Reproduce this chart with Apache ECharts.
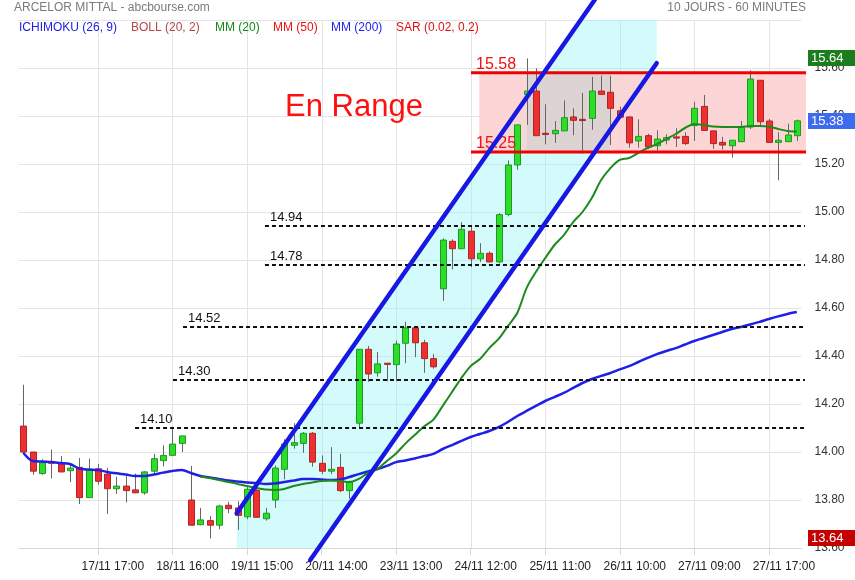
<!DOCTYPE html>
<html><head><meta charset="utf-8">
<script src="https://cdn.jsdelivr.net/npm/echarts@6/dist/echarts.min.js"></script>
<style>html,body{margin:0;padding:0;background:#fff}#c{width:855px;height:580px}</style>
</head><body><div id="c"></div>
<script>
// ---- data (hourly candles) ----
const opens  = [14.108,14.00,13.91,13.958,13.95,13.922,13.936,13.81,13.93,13.908,13.847,13.858,13.842,13.83,13.92,13.964,13.986,14.036,13.80,13.697,13.714,13.695,13.778,13.767,13.73,13.84,13.722,13.80,13.928,14.028,14.036,14.078,13.953,13.92,13.936,13.839,14.12,14.428,14.33,14.37,14.364,14.453,14.517,14.455,14.389,14.68,14.878,14.847,14.92,14.805,14.828,14.792,14.99,15.196,15.49,15.504,15.328,15.326,15.338,15.396,15.386,15.39,15.504,15.499,15.422,15.396,15.296,15.318,15.276,15.30,15.313,15.315,15.36,15.44,15.338,15.29,15.276,15.293,15.354,15.549,15.379,15.29,15.293,15.318];
const closes = [14.00,13.92,13.955,13.955,13.917,13.933,13.81,13.925,13.878,13.847,13.858,13.839,13.83,13.917,13.972,13.986,14.033,14.067,13.695,13.717,13.695,13.775,13.764,13.736,13.845,13.728,13.745,13.933,14.033,14.039,14.078,13.958,13.92,13.928,13.839,13.875,14.428,14.325,14.367,14.368,14.45,14.517,14.455,14.389,14.355,14.883,14.847,14.928,14.805,14.828,14.792,14.989,15.196,15.363,15.504,15.318,15.326,15.34,15.393,15.382,15.384,15.504,15.49,15.432,15.395,15.288,15.315,15.271,15.304,15.31,15.311,15.285,15.432,15.34,15.285,15.279,15.299,15.354,15.554,15.376,15.29,15.299,15.321,15.38];
const lows   = [13.995,13.905,13.905,13.89,13.915,13.875,13.783,13.81,13.864,13.742,13.825,13.79,13.828,13.822,13.908,13.94,13.986,14.0,13.695,13.695,13.64,13.678,13.745,13.675,13.72,13.728,13.714,13.767,13.886,14.014,13.997,13.939,13.908,13.908,13.833,13.805,14.10,14.292,14.314,14.295,14.295,14.37,14.395,14.33,14.347,14.63,14.761,14.847,14.77,14.792,14.79,14.786,14.982,15.176,15.363,15.318,15.282,15.288,15.338,15.32,15.243,15.343,15.49,15.279,15.39,15.268,15.268,15.262,15.257,15.282,15.271,15.279,15.296,15.34,15.263,15.26,15.226,15.293,15.346,15.354,15.29,15.132,15.293,15.296];
const highs  = [14.28,14.00,13.97,14.01,13.983,13.953,13.975,13.972,13.95,13.933,13.897,13.90,13.91,13.92,13.992,14.028,14.105,14.067,13.942,13.767,13.733,13.78,13.792,13.795,13.861,13.86,13.767,13.944,14.053,14.12,14.083,14.083,13.986,14.02,13.992,13.88,14.428,14.442,14.417,14.37,14.464,14.542,14.517,14.467,14.408,14.89,14.886,14.958,14.945,14.87,14.836,14.995,15.215,15.363,15.64,15.599,15.449,15.379,15.465,15.432,15.496,15.563,15.568,15.568,15.439,15.396,15.386,15.326,15.34,15.324,15.349,15.332,15.46,15.488,15.338,15.313,15.299,15.379,15.59,15.549,15.388,15.332,15.368,15.385];
const ma20 = [null,null,null,null,null,null,null,null,null,null,null,null,null,null,null,null,null,null,null,
  13.897,13.892,13.883,13.875,13.867,13.858,13.85,13.844,13.842,13.846,
  13.858,13.867,13.873,13.879,13.881,13.879,13.875,13.888,13.9125,13.929,
  13.962,13.994,14.035,14.071,14.106,14.135,14.192,14.25,14.308,14.358,
  14.3875,14.433,14.471,14.525,14.579,14.683,14.75,14.808,14.8625,14.904,
  14.958,15.0,15.058,15.133,15.183,15.217,15.225,15.246,15.267,15.283,
  15.304,15.325,15.35,15.367,15.3625,15.356,15.354,15.354,15.354,15.358,
  15.358,15.356,15.346,15.3375,15.335];
const ma200 = [13.997,13.9625,13.96,13.958,13.954,13.95,13.931,13.927,13.925,13.917,
  13.911,13.906,13.9,13.9,13.906,13.914,13.921,13.925,13.9125,13.9,
  13.894,13.8875,13.881,13.877,13.873,13.871,13.867,13.869,13.875,13.881,
  13.8875,13.8875,13.885,13.883,13.885,13.896,13.908,13.919,13.929,13.942,
  13.958,13.965,13.973,13.983,13.992,14.0125,14.029,14.046,14.0625,14.075,
  14.0875,14.104,14.125,14.15,14.171,14.192,14.2125,14.229,14.246,14.267,
  14.2875,14.304,14.317,14.329,14.344,14.358,14.375,14.392,14.408,14.421,
  14.433,14.448,14.4625,14.475,14.4875,14.5,14.5125,14.521,14.531,14.542,
  14.554,14.565,14.575,14.583];
const categories = opens.map((_, i) => String(i));
const tickIndex  = [8,16,24,32,40,48,56,64,72,80];
const tickLabels = ['17/11 17:00','18/11 16:00','19/11 15:00','20/11 14:00','23/11 13:00','24/11 12:00','25/11 11:00','26/11 10:00','27/11 09:00','27/11 17:00'];

// ---- drawn annotations (in candle-index / price units) ----
const channelUpper = [[22.9, 13.745], [61.3, 15.883]];
const channelLower = [[30.79, 13.55], [67.96, 15.62]];
const channelSpan  = [22.9, 67.96];
const rangeLevels  = [15.58, 15.25];
const rangeLineFrom = 48.04, rangeFillFrom = 48.93, rangeTo = 83.98;
const consolidation = [54.04, 62.95];
const supportLevels = [14.94, 14.78, 14.52, 14.30, 14.10];
const supportFrom   = [25.93, 25.93, 17.14, 16.06, 11.99];
const supportTo = 83.87;
const rangeText = {x: 28.08, y: 15.4375, text: 'En Range'};

const candleData = opens.map((o, i) => [i, o, closes[i], lows[i], highs[i]]);
const maxHigh = Math.max(...highs), minLow = Math.min(...lows), lastClose = closes[closes.length - 1];
const priceTags = [[maxHigh, '#1b7d1b'], [lastClose, '#3d6bf0'], [minLow, '#c40000']];
const FONT = 'Liberation Sans, Arial, sans-serif';

function lineAt(seg, x) { const [[x1, y1], [x2, y2]] = seg; return y1 + (y2 - y1) * (x - x1) / (x2 - x1); }

const chart = echarts.init(document.getElementById('c'));
chart.setOption({
  animation: false,
  backgroundColor: '#ffffff',
  grid: {left: 18.64, right: 53.5, top: 20, bottom: 32},
  graphic: [
    {type: 'text', left: 14, top: 2, style: {text: 'ARCELOR MITTAL - abcbourse.com', fill: '#7a7a7a', font: '12px ' + FONT}},
    {type: 'text', right: 49, top: 2, style: {text: '10 JOURS - 60 MINUTES', fill: '#7a7a7a', font: '12px ' + FONT}},
    {type: 'text', left: 19, top: 22, z: 100, style: {text: 'ICHIMOKU (26, 9)', fill: '#1c1ce0', font: '12px ' + FONT}},
    {type: 'text', left: 131, top: 22, z: 100, style: {text: 'BOLL (20, 2)', fill: '#b04848', font: '12px ' + FONT}},
    {type: 'text', left: 215, top: 22, z: 100, style: {text: 'MM (20)', fill: '#138a13', font: '12px ' + FONT}},
    {type: 'text', left: 273, top: 22, z: 100, style: {text: 'MM (50)', fill: '#ee1111', font: '12px ' + FONT}},
    {type: 'text', left: 331, top: 22, z: 100, style: {text: 'MM (200)', fill: '#2222ee', font: '12px ' + FONT}},
    {type: 'text', left: 396, top: 22, z: 100, style: {text: 'SAR (0.02, 0.2)', fill: '#dd1111', font: '12px ' + FONT}}
  ],
  xAxis: [
    {type: 'category', data: categories, boundaryGap: true,
     axisLine: {lineStyle: {color: '#d6d6d6'}},
     axisTick: {show: true, alignWithLabel: true, interval: (i) => tickIndex.includes(i), length: 7, lineStyle: {color: '#d6d6d6'}},
     axisLabel: {interval: (i) => tickIndex.includes(i), formatter: (v, i) => tickLabels[tickIndex.indexOf(i)] || '',
                 padding: [0, 0, 0, 30], margin: 13, color: '#222', fontSize: 12, fontFamily: FONT},
     splitLine: {show: false}},
    {type: 'value', min: -0.5, max: 83.5, show: false}
  ],
  yAxis: {type: 'value', position: 'right', min: 13.6, max: 15.8, interval: 0.2,
    axisLine: {show: false}, axisTick: {show: false},
    splitLine: {lineStyle: {color: '#e4e4e4'}},
    axisLabel: {color: '#333', fontSize: 12, margin: 13, fontFamily: FONT, showMaxLabel: false, formatter: (v) => v.toFixed(2)}},
  series: [
    // vertical grid lines
    {type: 'custom', xAxisIndex: 0, z: 1, silent: true, data: tickIndex.map(i => [i, 14]),
     renderItem: (p, api) => {
       const x = Math.round(api.coord([api.value(0), 15.8])[0]) + 0.5;
       const y1 = api.coord([0, 15.8])[1], y2 = api.coord([0, 13.6])[1];
       return {type: 'line', shape: {x1: x, y1: y1, x2: x, y2: y2}, style: {stroke: '#e4e4e4', lineWidth: 1}};
     }},
    // channel fill
    {type: 'custom', xAxisIndex: 1, z: 1, clip: true, silent: true, data: [[0, 14]],
     renderItem: (p, api) => {
       const [a, b] = channelSpan;
       const pts = [[a, lineAt(channelUpper, a)], [b, lineAt(channelUpper, b)], [b, lineAt(channelLower, b)], [a, lineAt(channelLower, a)]].map(q => api.coord(q));
       return {type: 'polygon', shape: {points: pts}, style: {fill: 'rgba(150,245,245,0.42)'}};
     }},
    // range band + consolidation box
    {type: 'custom', xAxisIndex: 1, z: 1, clip: false, silent: true, data: [[0, 14]],
     renderItem: (p, api) => {
       const t1 = api.coord([rangeFillFrom, rangeLevels[0]]), b1 = api.coord([rangeTo, rangeLevels[1]]);
       const t2 = api.coord([consolidation[0], rangeLevels[0]]), b2 = api.coord([consolidation[1], rangeLevels[1]]);
       return {type: 'group', children: [
         {type: 'rect', shape: {x: t1[0], y: t1[1], width: b1[0] - t1[0], height: b1[1] - t1[1]}, style: {fill: 'rgba(252,208,208,0.88)'}},
         {type: 'rect', shape: {x: t2[0], y: t2[1], width: b2[0] - t2[0], height: b2[1] - t2[1]}, style: {fill: 'rgba(214,210,210,0.8)'}}
       ]};
     }},
    // candles
    {type: 'custom', name: 'ARCELOR MITTAL', xAxisIndex: 0, z: 3, data: candleData, encode: {x: 0, y: [1, 2, 3, 4]},
     renderItem: (p, api) => {
       const i = api.value(0), o = api.value(1), c = api.value(2), l = api.value(3), h = api.value(4);
       const po = api.coord([i, o]), pc = api.coord([i, c]), pl = api.coord([i, l]), ph = api.coord([i, h]);
       const x = Math.round(po[0]);
       const up = c >= o;
       const top = Math.min(po[1], pc[1]), bot = Math.max(po[1], pc[1]);
       return {type: 'group', children: [
         {type: 'line', shape: {x1: x + 0.5, y1: ph[1], x2: x + 0.5, y2: pl[1]}, style: {stroke: '#666', lineWidth: 1}},
         {type: 'rect', shape: {x: x - 2.5, y: top, width: 6, height: Math.max(bot - top, 1.2)},
          style: {fill: up ? '#2ade2a' : '#ee3030', stroke: up ? '#1f9a1f' : '#b02424', lineWidth: 1}}
       ]};
     }},
    // MM 200
    {type: 'line', name: 'MM (200)', xAxisIndex: 0, z: 4, data: ma200, showSymbol: false, smooth: 0.3,
     lineStyle: {color: '#1f1fe8', width: 2.5}},
    // MM 20
    {type: 'line', name: 'MM (20)', xAxisIndex: 0, z: 4, data: ma20, showSymbol: false, smooth: 0.3,
     lineStyle: {color: '#1e8a1e', width: 2}},
    // support / resistance dashed levels
    {type: 'custom', xAxisIndex: 1, z: 5, clip: false, silent: true, data: supportLevels.map((v, k) => [supportFrom[k], v]),
     renderItem: (p, api) => {
       const a = api.coord([api.value(0), api.value(1)]), b = api.coord([supportTo, api.value(1)]);
       const y = Math.round(a[1]);
       return {type: 'group', children: [
         {type: 'line', shape: {x1: a[0], y1: y, x2: b[0], y2: y}, style: {stroke: '#111', lineWidth: 2, lineDash: [4, 3]}},
         {type: 'text', x: a[0] + 5, y: y - 2, style: {text: api.value(1).toFixed(2), fill: '#111', font: '13px ' + FONT, textAlign: 'left', textVerticalAlign: 'bottom'}}
       ]};
     }},
    // range red lines
    {type: 'custom', xAxisIndex: 1, z: 5, clip: false, silent: true, data: rangeLevels.map(v => [rangeLineFrom, v]),
     renderItem: (p, api) => {
       const a = api.coord([api.value(0), api.value(1)]), b = api.coord([rangeTo, api.value(1)]);
       return {type: 'group', children: [
         {type: 'line', shape: {x1: a[0], y1: a[1], x2: b[0], y2: a[1]}, style: {stroke: '#f00000', lineWidth: 3}},
         {type: 'text', x: a[0] + 5, y: a[1] - 0.5, style: {text: api.value(1).toFixed(2), fill: '#ee1111', font: '16px ' + FONT, textAlign: 'left', textVerticalAlign: 'bottom'}}
       ]};
     }},
    // channel lines
    {type: 'custom', xAxisIndex: 1, z: 6, clip: false, silent: true, data: [channelUpper, channelLower].map(s => [s[0][0], s[0][1], s[1][0], s[1][1]]),
     renderItem: (p, api) => {
       const a = api.coord([api.value(0), api.value(1)]), b = api.coord([api.value(2), api.value(3)]);
       return {type: 'line', shape: {x1: a[0], y1: a[1], x2: b[0], y2: b[1]}, style: {stroke: '#1818e4', lineWidth: 4.5, lineCap: 'round'}};
     }},
    // "En Range" text
    {type: 'custom', xAxisIndex: 1, z: 7, clip: false, silent: true, data: [[rangeText.x, rangeText.y]],
     renderItem: (p, api) => {
       const a = api.coord([api.value(0), api.value(1)]);
       return {type: 'text', x: a[0], y: a[1], style: {text: rangeText.text, fill: '#ff1010', font: '31px ' + FONT, textAlign: 'left', textVerticalAlign: 'middle'}};
     }},
    // price tags on the right axis (max high, last close, min low)
    {type: 'custom', xAxisIndex: 1, z: 20, clip: false, silent: true, data: priceTags.map(t => [83.5, t[0]]),
     renderItem: (p, api) => {
       const a = api.coord([api.value(0), api.value(1)]);
       const col = priceTags[p.dataIndex][1];
       const x0 = a[0] + 6.5, y0 = Math.round(a[1]) - 8;
       return {type: 'group', children: [
         {type: 'rect', shape: {x: x0, y: y0, width: 48, height: 16}, style: {fill: col}},
         {type: 'text', x: x0 + 3, y: y0 + 8.5, style: {text: api.value(1).toFixed(2), fill: '#fff', font: '13px ' + FONT, textAlign: 'left', textVerticalAlign: 'middle'}}
       ]};
     }}
  ]
});
</script></body></html>
